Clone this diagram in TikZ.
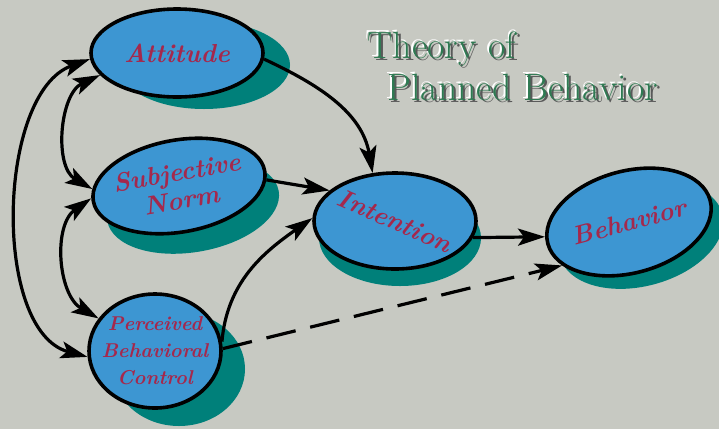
\documentclass[tikz,border=0pt]{standalone}
\usepackage{graphicx}
\usetikzlibrary{shapes.geometric,arrows.meta,shadows}
\definecolor{bgray}{HTML}{C7C9C2}
\definecolor{blobblue}{HTML}{3D96D2}
\definecolor{shadeteal}{HTML}{00807A}
\definecolor{labelred}{HTML}{A5284C}
\definecolor{titlegreen}{HTML}{2E7A52}
\tikzstyle{every shadow}=[fill=shadeteal, opacity=1]
\tikzstyle{blob}=[ellipse, draw=black, line width=3.6pt, fill=blobblue, inner sep=-12pt, text=labelred, align=center, font=\fontsize{26}{28}\selectfont\bfseries\itshape]
\tikzstyle{arr}=[line width=3.2pt, -{Stealth[length=27pt, width=17pt, inset=6pt]}]
\tikzstyle{dbl}=[line width=3.2pt, {Stealth[length=27pt, width=17pt, inset=6pt]}-{Stealth[length=27pt, width=17pt, inset=6pt]}]
\tikzstyle{ttl}=[anchor=base west, inner sep=0pt, font=\fontsize{38}{40}\selectfont]

\begin{document}
\begin{tikzpicture}[x=1pt, y=-1pt]
% Background
    \useasboundingbox (0,0) rectangle (719,429);
    \fill[bgray] (0,0) rectangle (719,429);
% Title
    \node[ttl, white] (ttlahalo) at (365.5,56.5) {Theory of};
    \node[ttl, white] (ttlbhalo) at (385.5,98.5) {Planned Behavior};
    \node[ttl, black!65] (ttlashade) at (369.5,60.5) {Theory of};
    \node[ttl, black!65] (ttlbshade) at (389.5,102.5) {Planned Behavior};
    \node[ttl, titlegreen] (ttla) at (367,58) {Theory of};
    \node[ttl, titlegreen] (ttlb) at (387,100) {Planned Behavior};
% Constructs
    \node[blob, minimum width=172pt, minimum height=88pt, drop shadow={shadow xshift=27pt, shadow yshift=-12pt}] (att) at (177,53) {Attitude};
    \node[blob, rotate=10, minimum width=174pt, minimum height=92pt, drop shadow={shadow xshift=14pt, shadow yshift=-20pt}] (subj) at (179,186) {Subjective\\Norm};
    \node[blob, minimum width=132pt, minimum height=114pt, inner sep=-22pt, drop shadow={shadow xshift=24pt, shadow yshift=-18pt}, font=\fontsize{20}{27}\selectfont\bfseries\itshape] (pbc) at (155,351) {Perceived\\Behavioral\\Control};
    \node[blob, minimum width=162pt, minimum height=96pt, drop shadow={shadow xshift=5pt, shadow yshift=-17pt}] (int) at (395,221) {\rotatebox{-24}{Intention}};
    \node[blob, rotate=15, minimum width=168pt, minimum height=102pt, drop shadow={shadow xshift=12pt, shadow yshift=-13pt}] (beh) at (629,222) {Behavior};
% Paths to intention and behavior
    \draw[arr] (att.-4) to[out=-25, in=100] (int.115);
    \draw[arr] (subj.-6) -- (int.155);
    \draw[arr] (pbc.8) to[out=85, in=-145] (int.178);
    \draw[arr] (int.-12) -- (beh.175);
    \draw[arr, dash pattern=on 30pt off 15pt] (pbc.2) -- (beh.198);
% Correlations between constructs
    \draw[dbl] (att.196) to[out=205, in=150] (subj.172);
    \draw[dbl] (subj.178) to[out=215, in=150] (pbc.150);
    \draw[dbl] (att.184) to[out=200, in=165, looseness=0.85] (pbc.185);
\end{tikzpicture}
\end{document}
